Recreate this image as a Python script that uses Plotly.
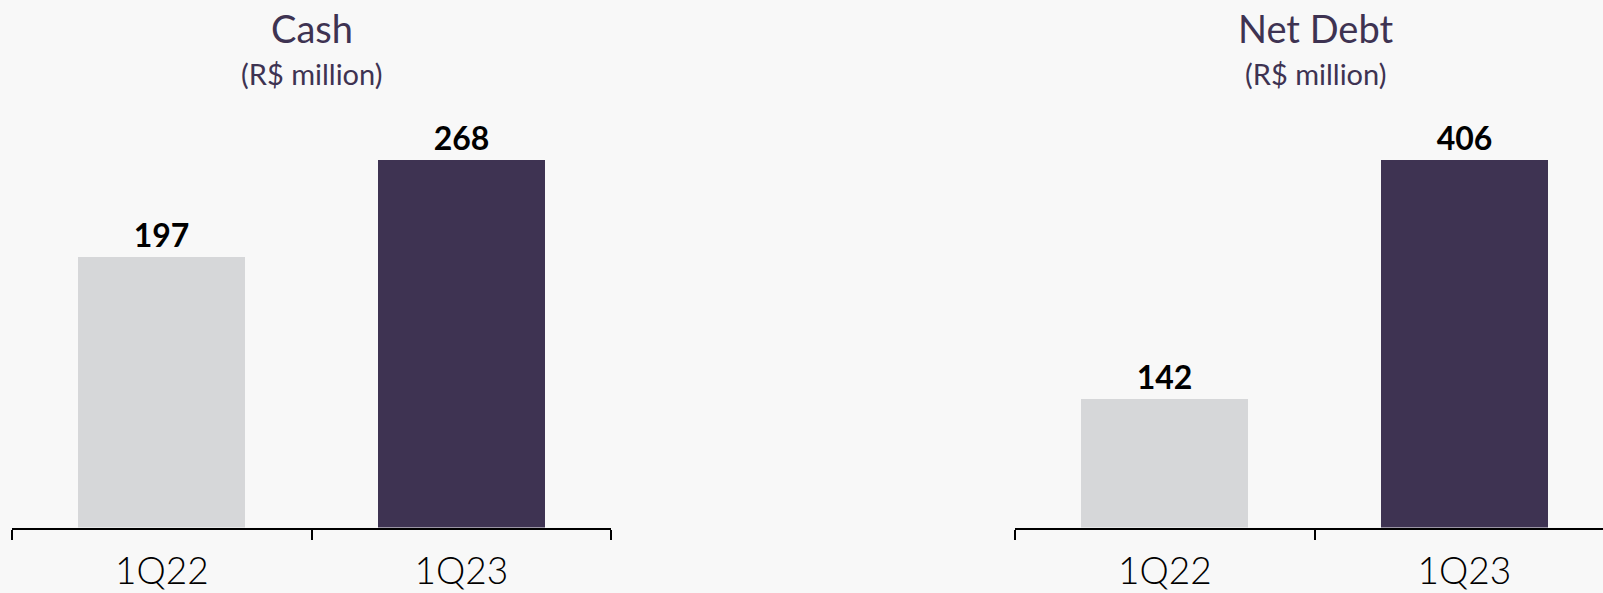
import plotly.graph_objects as go

categories = ["1Q22", "1Q23"]
cash_values = [197, 268]
net_debt_values = [142, 406]
titles = ["Cash", "Net Debt"]
subtitle = "(R$ million)"

W, H = 1603, 593
BG = "#f8f8f8"
DARK = "#3e3352"
GREY = "#d6d7d9"
bar_colors = [GREY, DARK]

fig = go.Figure()

def add_bar(values, xa, ya):
    fig.add_trace(go.Bar(
        x=categories, y=values, xaxis=xa, yaxis=ya,
        marker=dict(color=bar_colors, line=dict(width=0)),
        width=0.557,
        text=[str(v) for v in values], textposition="outside",
        textfont=dict(family="Lato", size=32, color="#000000", weight="bold"),
        cliponaxis=False, hoverinfo="skip", showlegend=False,
    ))

add_bar(cash_values, "x", "y")
add_bar(net_debt_values, "x2", "y2")

y_bottom = (H - 527.5) / H
y_top = (H - 100) / H
dom_h = 427.5
top_px = 368.0

axis_common = dict(
    type="category", showgrid=False, zeroline=False, showline=True,
    linecolor="#000000", linewidth=2, ticks="outside", tickson="boundaries",
    ticklen=10, tickwidth=2, tickcolor="#000000", ticklabelstandoff=10,
    tickfont=dict(family="Lato", size=37, color="#000000", weight=300),
    fixedrange=True,
)

fig.update_layout(
    width=W, height=H, margin=dict(l=0, r=0, t=0, b=0),
    paper_bgcolor=BG, plot_bgcolor=BG,
    xaxis=dict(domain=[12 / W, 611 / W], range=[-0.5, 1.5], anchor="y", **axis_common),
    xaxis2=dict(domain=[1015 / W, 1.0], range=[-0.5, 1.5 - (1614 - W) / 299.5], anchor="y2", **axis_common),
    yaxis=dict(domain=[y_bottom, y_top], range=[0, max(cash_values) * dom_h / top_px],
               visible=False, anchor="x"),
    yaxis2=dict(domain=[y_bottom, y_top], range=[0, max(net_debt_values) * dom_h / top_px],
                visible=False, anchor="x2"),
    bargap=0,
)

centers = [311.5, 1315]
for cx, t in zip(centers, titles):
    fig.add_annotation(x=cx / W, y=1 - 28 / H, xref="paper", yref="paper",
                       text=t, showarrow=False, xanchor="center", yanchor="middle",
                       font=dict(family="Lato", size=38, color=DARK))
    fig.add_annotation(x=cx / W, y=1 - 73 / H, xref="paper", yref="paper",
                       text=subtitle, showarrow=False, xanchor="center", yanchor="middle",
                       font=dict(family="Lato", size=29, color=DARK))

fig.write_html("out.html")
